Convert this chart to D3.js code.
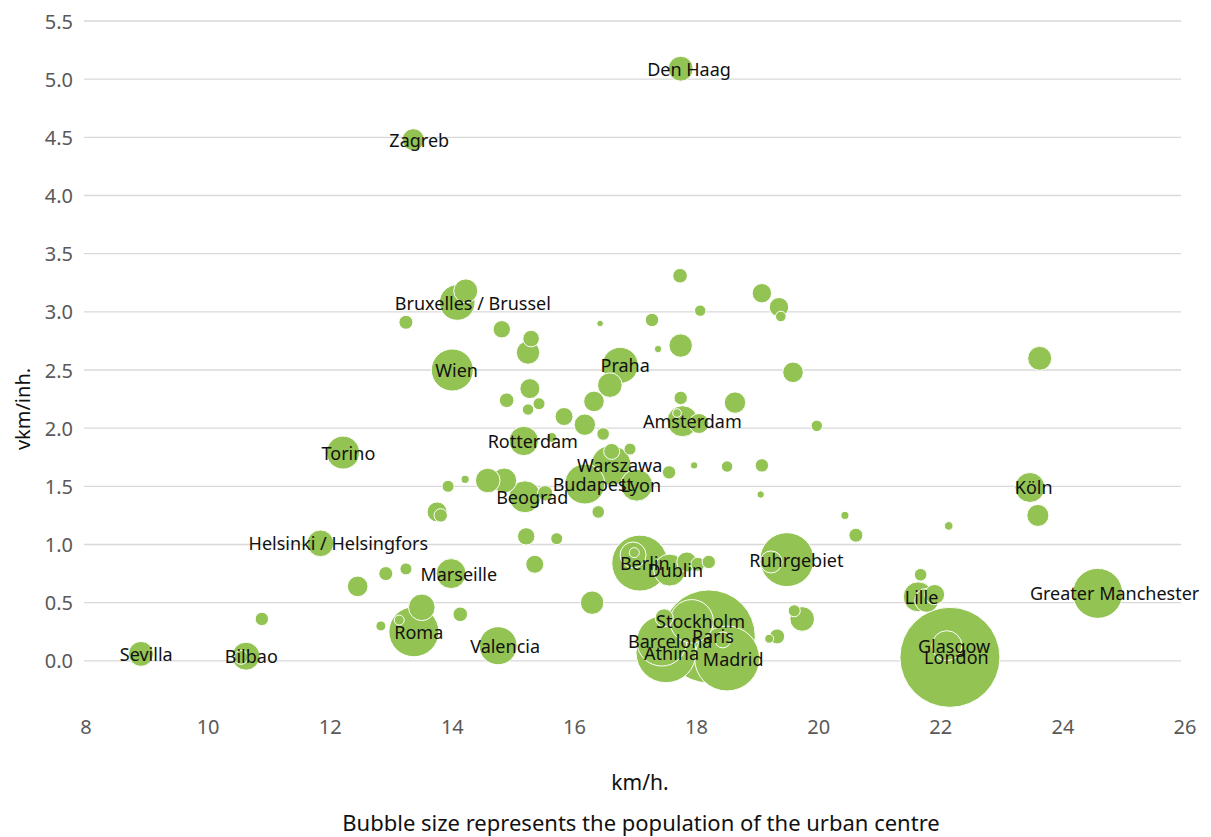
<!DOCTYPE html>
<html>
<head>
<meta charset="utf-8">
<script src="https://cdn.jsdelivr.net/npm/d3@7"></script>
<style>
  html, body { margin: 0; padding: 0; background: #fff; }
  svg { display: block; font-family: "Noto Sans", "Open Sans", sans-serif; }
</style>
</head>
<body>
<svg id="chart" width="1211" height="837"></svg>
<script>
// ---- data ----
const cityNames = [
  "Sevilla","Bilbao","Helsinki / Helsingfors","Torino","Wien","Bruxelles / Brussel","Zagreb","Den Haag",
  "Praha","Amsterdam","Rotterdam","Warszawa","Budapest","Lyon","Beograd","Köln","Marseille","Berlin",
  "Dublin","Ruhrgebiet","Lille","Greater Manchester","Roma","Valencia","Stockholm","Paris","Barcelona",
  "Athina","Madrid","London","Glasgow",
  "","","","","","","","","","","","","","","","","","","","","","","","","","","","","","","","","","","","",
  "","","","","","","","","","","","","","","","","","","","","","","","","","","","","","","","","","","","",
  "",""
];
const speedKmh = [
  8.90,10.62,11.84,12.21,14.00,14.08,13.36,17.74,
  16.75,17.77,15.17,16.60,16.17,17.02,15.19,23.46,13.98,17.07,
  17.56,19.48,21.63,24.57,13.37,14.75,17.92,18.20,17.43,
  17.50,18.50,22.15,22.10,
  14.22,13.24,14.81,15.29,15.24,16.42,17.27,17.37,17.74,17.73,18.06,19.07,19.35,19.38,19.58,23.62,
  17.74,18.63,17.68,18.04,19.97,15.27,14.89,15.24,15.42,15.83,16.17,16.47,16.32,16.58,15.63,16.61,
  16.91,17.55,17.96,18.50,19.07,19.05,16.39,15.52,14.58,14.85,14.21,13.93,13.75,13.81,15.21,15.71,
  15.35,16.29,12.45,12.91,13.24,13.50,13.13,12.83,14.13,10.88,16.96,16.98,17.84,18.02,18.20,19.22,
  17.47,18.43,19.32,19.19,19.73,19.60,20.43,20.61,22.13,23.59,21.67,21.90,21.77,10.54
];
const vkmPerInh = [
  0.06,0.04,1.01,1.79,2.50,3.08,4.48,5.09,
  2.54,2.06,1.89,1.68,1.52,1.51,1.41,1.49,0.75,0.84,
  0.78,0.87,0.55,0.58,0.25,0.13,0.34,0.21,0.17,
  0.07,0.02,0.03,0.13,
  3.18,2.91,2.85,2.77,2.65,2.90,2.93,2.68,2.71,3.31,3.01,3.16,3.04,2.96,2.48,2.60,
  2.26,2.22,2.13,2.04,2.02,2.34,2.24,2.16,2.21,2.10,2.03,1.95,2.23,2.37,1.92,1.80,
  1.82,1.62,1.68,1.67,1.68,1.43,1.28,1.44,1.55,1.55,1.56,1.50,1.28,1.25,1.07,1.05,
  0.83,0.50,0.64,0.75,0.79,0.46,0.35,0.30,0.40,0.36,0.91,0.93,0.85,0.83,0.85,0.85,
  0.37,0.18,0.21,0.19,0.36,0.43,1.25,1.08,1.16,1.25,0.74,0.57,0.52,0.03
];
const population = [ // thousands
  560,705,637,980,1590,1140,436,560,
  1166,865,778,1440,1440,920,920,810,810,2820,
  920,2620,810,2250,2250,1300,1695,7780,2250,
  3240,3800,9000,810,
  518,176,272,248,493,39,162,49,493,192,117,339,339,101,382,518,
  162,412,67,360,117,360,192,117,130,292,412,143,382,545,90,230,
  130,162,49,117,162,49,143,213,545,560,58,130,360,162,272,130,
  292,493,382,176,130,637,90,90,192,162,608,90,360,176,162,436,
  292,230,203,73,545,130,58,176,67,436,143,360,518,176
];
const xTicks = [8,10,12,14,16,18,20,22,24,26];
const yTicks = [0,0.5,1,1.5,2,2.5,3,3.5,4,4.5,5,5.5];

const points = speedKmh.map((s, i) => ({
  name: cityNames[i] || "", x: s, y: vkmPerInh[i], pop: population[i]
}));

// ---- drawing ----
const svg = d3.select("#chart");
const x = d3.scaleLinear().domain([8, 26]).range([86, 1185]);
const y = d3.scaleLinear().domain([-0.5, 5.5]).range([719, 21]);
const r = d3.scaleSqrt().domain([0, d3.max(population)]).range([0, 50]);

// gridlines
svg.append("g").selectAll("line").data(yTicks).join("line")
  .attr("x1", 84).attr("x2", 1181)
  .attr("y1", d => y(d)).attr("y2", d => y(d))
  .attr("stroke", "#d9d9d9").attr("stroke-width", 1.3);

// y tick labels
svg.append("g").selectAll("text").data(yTicks).join("text")
  .attr("x", 73).attr("y", d => y(d))
  .attr("text-anchor", "end").attr("dominant-baseline", "central")
  .attr("font-size", 20).attr("fill", "#595959")
  .text(d => d3.format(".1f")(d));

// x tick labels
svg.append("g").selectAll("text").data(xTicks).join("text")
  .attr("x", d => x(d)).attr("y", 726)
  .attr("text-anchor", "middle").attr("dominant-baseline", "central")
  .attr("font-size", 20).attr("fill", "#595959")
  .text(d => d);

// bubbles (largest first)
const sorted = points.slice().sort((a, b) => b.pop - a.pop);
svg.append("g").selectAll("circle").data(sorted).join("circle")
  .attr("cx", d => x(d.x)).attr("cy", d => y(d.y)).attr("r", d => r(d.pop))
  .attr("fill", "#93c353").attr("stroke", "#ffffff").attr("stroke-width", 1);

// data labels
const lab = svg.append("g").selectAll("text").data(points.filter(d => d.name)).join("text")
  .attr("x", d => x(d.x)).attr("y", d => y(d.y))
  .attr("text-anchor", "middle").attr("dominant-baseline", "central")
  .attr("font-size", 18).attr("fill", "#111")
  .text(d => d.name);
lab.attr("dx", function() { return this.getComputedTextLength() * 0.1; });

// axis titles
svg.append("text").attr("transform", "translate(22,409) rotate(-90)")
  .attr("text-anchor", "middle").attr("dominant-baseline", "central")
  .attr("font-size", 20).attr("fill", "#111").text("vkm/inh.");
svg.append("text").attr("x", 640).attr("y", 782)
  .attr("text-anchor", "middle").attr("dominant-baseline", "central")
  .attr("font-size", 21).attr("fill", "#111").text("km/h.");
svg.append("text").attr("x", 641).attr("y", 822)
  .attr("text-anchor", "middle").attr("dominant-baseline", "central")
  .attr("font-size", 22).attr("fill", "#111")
  .text("Bubble size represents the population of the urban centre");
</script>
</body>
</html>
